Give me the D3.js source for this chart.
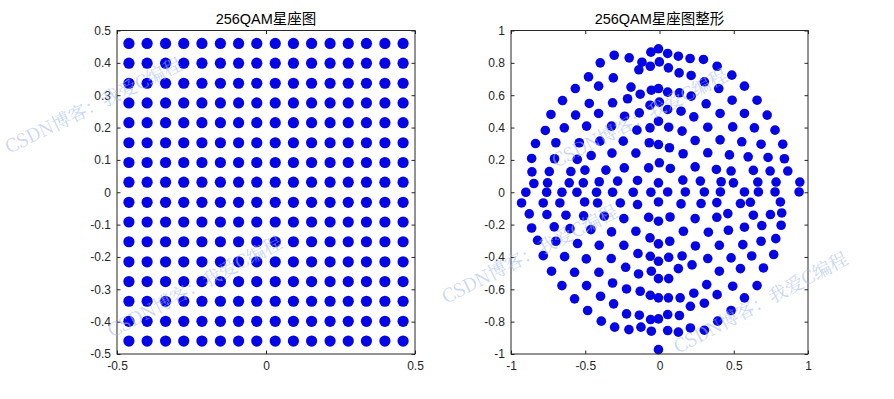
<!DOCTYPE html>
<html><head><meta charset="utf-8">
<script src="https://cdn.jsdelivr.net/npm/d3@7"></script>
<style>body{margin:0;background:#fff}svg{display:block}</style>
</head><body><svg id="c" width="894" height="399"></svg>
<script>
// ---- data ----
const qamLevels = [-0.460,-0.399,-0.337,-0.276,-0.215,-0.153,-0.092,-0.031,0.031,0.092,0.153,0.215,0.276,0.337,0.399,0.460];
const shapedIQ = [
[-0.305,0.847],[-0.399,0.800],[-0.204,0.831],[-0.118,0.804],[-0.139,0.757],[-0.058,0.866],[-0.062,0.779],[-0.478,0.713],[-0.311,0.707],[-0.567,0.641],[-0.410,0.656],[-0.192,0.650],[-0.130,0.606],[-0.055,0.631],[-0.653,0.567],[-0.473,0.549],[-0.316,0.553],[-0.215,0.578],[-0.064,0.538],[-0.731,0.481],[-0.565,0.477],[-0.410,0.487],[-0.235,0.470],[-0.136,0.491],[-0.769,0.382],[-0.641,0.398],[-0.491,0.409],[-0.323,0.409],[-0.152,0.384],[-0.064,0.398],[-0.835,0.301],[-0.698,0.306],[-0.540,0.306],[-0.401,0.316],[-0.244,0.316],[-0.069,0.306],[-0.861,0.209],[-0.707,0.207],[-0.554,0.203],[-0.460,0.227],[-0.320,0.242],[-0.159,0.242],[-0.859,0.126],[-0.742,0.128],[-0.597,0.128],[-0.502,0.137],[-0.361,0.137],[-0.237,0.151],[-0.073,0.151],[-0.846,0.054],[-0.754,0.058],[-0.608,0.058],[-0.513,0.058],[-0.406,0.065],[-0.282,0.069],[-0.148,0.073],
[-0.900,0.000],[-0.760,0.000],[-0.657,0.000],[-0.556,0.000],[-0.424,0.000],[-0.316,0.000],[-0.177,0.000],[-0.058,0.000],[-0.929,-0.066],[-0.783,-0.066],[-0.671,-0.066],[-0.504,-0.060],[-0.417,-0.066],[-0.264,-0.066],[-0.148,-0.076],[-0.877,-0.134],[-0.758,-0.138],[-0.630,-0.142],[-0.511,-0.146],[-0.372,-0.148],[-0.240,-0.163],[-0.073,-0.155],[-0.861,-0.221],[-0.709,-0.214],[-0.603,-0.225],[-0.462,-0.231],[-0.323,-0.245],[-0.159,-0.241],[-0.064,-0.282],[-0.821,-0.297],[-0.698,-0.303],[-0.552,-0.317],[-0.406,-0.328],[-0.240,-0.328],[-0.783,-0.392],[-0.639,-0.398],[-0.493,-0.412],[-0.325,-0.410],[-0.145,-0.379],[-0.062,-0.396],[-0.727,-0.488],[-0.572,-0.495],[-0.408,-0.495],[-0.228,-0.464],[-0.141,-0.505],[-0.055,-0.488],[-0.657,-0.577],[-0.491,-0.577],[-0.316,-0.561],[-0.222,-0.598],[-0.130,-0.612],[-0.062,-0.637],[-0.572,-0.659],[-0.397,-0.643],[-0.309,-0.690],[-0.484,-0.731],[-0.222,-0.752],[-0.136,-0.760],[-0.060,-0.787],[-0.392,-0.797],[-0.302,-0.834],[-0.206,-0.849],[-0.125,-0.834],[-0.055,-0.859],
[-0.007,0.887],[0.055,0.858],[0.127,0.841],[0.206,0.827],[0.296,0.821],[0.388,0.779],[-0.001,0.806],[0.060,0.769],[0.132,0.738],[0.213,0.722],[0.302,0.683],[0.399,0.641],[0.487,0.724],[0.572,0.656],[-0.007,0.641],[0.055,0.619],[0.134,0.615],[0.213,0.594],[0.314,0.547],[0.489,0.569],[0.657,0.569],[-0.001,0.557],[0.055,0.512],[0.145,0.501],[0.231,0.466],[0.408,0.487],[0.572,0.487],[0.725,0.477],[-0.007,0.439],[0.062,0.402],[0.152,0.378],[0.325,0.402],[0.493,0.404],[0.639,0.398],[0.778,0.384],[-0.007,0.295],[0.067,0.275],[0.159,0.238],[0.240,0.320],[0.408,0.324],[0.554,0.312],[0.684,0.297],[0.830,0.297],[-0.001,0.182],[0.073,0.147],[0.240,0.157],[0.325,0.244],[0.383,0.141],[0.471,0.231],[0.482,0.131],[0.597,0.219],[0.632,0.135],[0.731,0.215],[0.745,0.131],[0.841,0.207],[0.864,0.131],[-0.007,0.058],[0.157,0.075],[0.275,0.069],[0.415,0.065],[0.498,0.058],[0.662,0.063],[0.785,0.063],[0.945,0.063],
[0.055,0.002],[0.174,0.002],[0.302,0.002],[0.410,0.002],[0.572,0.002],[0.666,0.002],[0.778,0.002],[0.940,0.002],[-0.007,-0.060],[0.145,-0.072],[0.280,-0.070],[0.386,-0.064],[0.545,-0.070],[0.612,-0.062],[0.814,-0.060],[-0.007,-0.179],[0.071,-0.153],[0.240,-0.163],[0.386,-0.155],[0.460,-0.132],[0.632,-0.142],[0.747,-0.138],[0.823,-0.128],[0.161,-0.241],[0.329,-0.247],[0.464,-0.235],[0.572,-0.216],[0.689,-0.206],[0.819,-0.204],[-0.007,-0.319],[0.069,-0.303],[0.242,-0.332],[0.403,-0.328],[0.561,-0.324],[0.684,-0.303],[0.783,-0.287],[-0.007,-0.427],[0.062,-0.402],[0.152,-0.394],[0.219,-0.449],[0.127,-0.472],[0.325,-0.410],[0.482,-0.406],[0.621,-0.394],[0.769,-0.385],[-0.007,-0.534],[0.062,-0.534],[0.403,-0.488],[0.545,-0.472],[0.700,-0.468],[0.318,-0.571],[0.493,-0.581],[0.657,-0.577],[-0.007,-0.653],[0.060,-0.653],[0.139,-0.653],[0.231,-0.624],[0.388,-0.633],[0.572,-0.653],[0.208,-0.705],[0.302,-0.686],[0.482,-0.731],[-0.007,-0.783],[0.055,-0.756],[0.134,-0.762],[0.392,-0.797],[0.055,-0.855],[0.127,-0.865],[0.208,-0.839],[0.302,-0.853],[-0.007,-0.973]
];
const titles = ["256QAM星座图", "256QAM星座图整形"];
const leftXTicks = [-0.5, 0, 0.5];
const leftXLabels = ["-0.5", "0", "0.5"];
const leftYTicks = [-0.5,-0.4,-0.3,-0.2,-0.1,0,0.1,0.2,0.3,0.4,0.5];
const leftYLabels = ["-0.5","-0.4","-0.3","-0.2","-0.1","0","0.1","0.2","0.3","0.4","0.5"];
const rightXTicks = [-1,-0.5,0,0.5,1];
const rightXLabels = ["-1","-0.5","0","0.5","1"];
const rightYTicks = [-1,-0.8,-0.6,-0.4,-0.2,0,0.2,0.4,0.6,0.8,1];
const rightYLabels = ["-1","-0.8","-0.6","-0.4","-0.2","0","0.2","0.4","0.6","0.8","1"];
const watermarkText = "CSDN博客：我爱C编程";

// ---- drawing ----
const svg = d3.select("#c");
svg.append("rect").attr("width",894).attr("height",399).attr("fill","#fff");
const AX = "#262626", DOT = "#0505e6";
const FONT = "'Liberation Sans', Arial, 'Noto Sans CJK SC', sans-serif";

function panel(cfg){
  const x = d3.scaleLinear().domain(cfg.xd).range([cfg.l, cfg.r]);
  const y = d3.scaleLinear().domain(cfg.yd).range([cfg.b, cfg.t]);
  const g = svg.append("g");
  g.append("g").selectAll("circle").data(cfg.pts).join("circle")
    .attr("cx", d=>x(d[0])).attr("cy", d=>y(d[1])).attr("r", cfg.rad).attr("fill", DOT);
  const tk = 3.5;
  const bottom = d3.axisBottom(x).tickValues(cfg.xt).tickFormat((d,i)=>cfg.xl[i]).tickSizeInner(-tk).tickSizeOuter(0).tickPadding(7.5);
  const top = d3.axisTop(x).tickValues(cfg.xt).tickFormat("").tickSizeInner(-tk).tickSizeOuter(0);
  const left = d3.axisLeft(y).tickValues(cfg.yt).tickFormat((d,i)=>cfg.yl[i]).tickSizeInner(-tk).tickSizeOuter(0).tickPadding(6);
  const right = d3.axisRight(y).tickValues(cfg.yt).tickFormat("").tickSizeInner(-tk).tickSizeOuter(0);
  const styl = s => { s.selectAll("path").remove(); s.selectAll("line").attr("stroke", AX);
    s.selectAll("text").attr("fill", AX).style("font-family", FONT).style("font-size","12px"); };
  g.append("g").attr("transform",`translate(0,${cfg.b})`).call(bottom).call(styl);
  g.append("g").attr("transform",`translate(0,${cfg.t})`).call(top).call(styl);
  g.append("g").attr("transform",`translate(${cfg.l},0)`).call(left).call(styl);
  g.append("g").attr("transform",`translate(${cfg.r},0)`).call(right).call(styl);
  g.append("rect").attr("x",cfg.l).attr("y",cfg.t).attr("width",cfg.r-cfg.l).attr("height",cfg.b-cfg.t)
    .attr("fill","none").attr("stroke",AX).attr("stroke-width",1);
  g.append("text").attr("x",(cfg.l+cfg.r)/2).attr("y",cfg.t-7).attr("text-anchor","middle")
    .style("font-family",FONT).style("font-size","14.5px").attr("fill","#000").text(cfg.title);
}

const qamPts = [];
qamLevels.forEach(i => qamLevels.forEach(q => qamPts.push([i,q])));

panel({l:117, r:415, t:30.5, b:354, xd:[-0.5,0.5], yd:[-0.5,0.5], pts:qamPts, rad:5.6,
  xt:leftXTicks, xl:leftXLabels, yt:leftYTicks, yl:leftYLabels, title:titles[0]});
panel({l:511, r:808, t:30.5, b:354, xd:[-1,1], yd:[-1,1], pts:shapedIQ, rad:4.8,
  xt:rightXTicks, xl:rightXLabels, yt:rightYTicks, yl:rightYLabels, title:titles[1]});

// watermarks
const wm = [[9,154,-26],[112,338,-28],[556,168,-27],[446,304,-27],[678,354,-28]];
svg.append("g").selectAll("text").data(wm).join("text")
  .attr("transform", d=>`translate(${d[0]},${d[1]}) rotate(${d[2]})`)
  .style("font-family","'Noto Serif CJK SC','Noto Sans CJK SC',serif").style("font-size","18.5px")
  .attr("fill","#a6baf0").attr("fill-opacity",0.6).text(watermarkText);
</script></body></html>
